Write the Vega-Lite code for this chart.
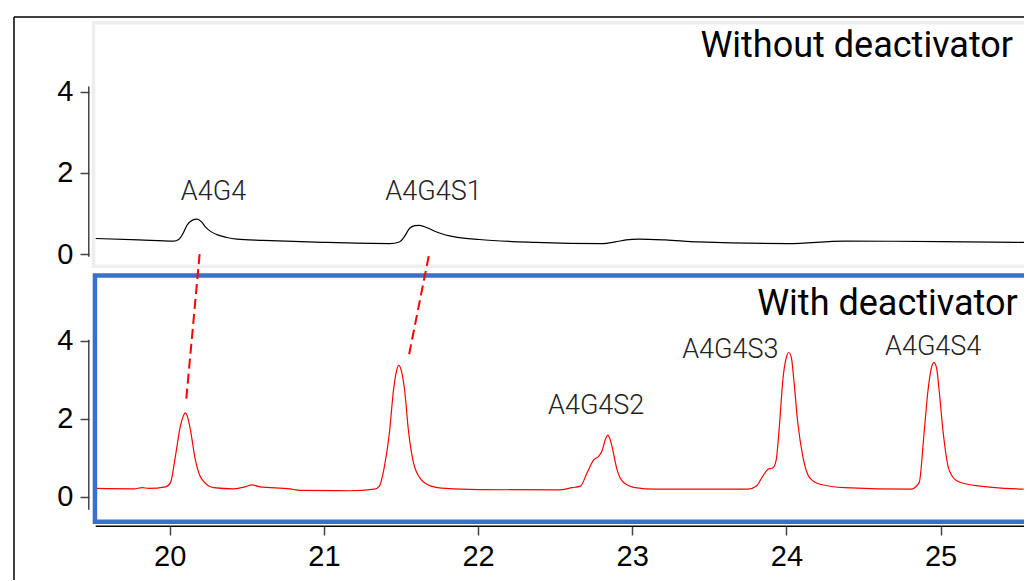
{
  "$schema": "https://vega.github.io/schema/vega-lite/v6.json",
  "width": 1027,
  "height": 581,
  "autosize": {"type": "fit", "contains": "padding"},
  "padding": {"left": 13, "top": 16, "right": 0, "bottom": 0},
  "background": "white",
  "config": {
    "view": {"stroke": null},
    "axis": {
      "labelFont": "Liberation Sans",
      "labelFontSize": 28,
      "labelColor": "#000000",
      "tickColor": "#444444",
      "tickWidth": 1.5,
      "tickSize": 9,
      "grid": false,
      "domain": false,
      "title": null
    }
  },
  "datasets": {
    "one": [{}],
    "without": [
      {"rt": 19.52, "signal": 0.385},
      {"rt": 19.8, "signal": 0.35},
      {"rt": 20.026, "signal": 0.32},
      {"rt": 20.058, "signal": 0.36},
      {"rt": 20.085, "signal": 0.5},
      {"rt": 20.112, "signal": 0.71},
      {"rt": 20.145, "signal": 0.83},
      {"rt": 20.177, "signal": 0.86},
      {"rt": 20.205, "signal": 0.8},
      {"rt": 20.231, "signal": 0.67},
      {"rt": 20.265, "signal": 0.56},
      {"rt": 20.306, "signal": 0.48},
      {"rt": 20.37, "signal": 0.41},
      {"rt": 20.435, "signal": 0.37},
      {"rt": 20.607, "signal": 0.34},
      {"rt": 20.995, "signal": 0.29},
      {"rt": 21.426, "signal": 0.26},
      {"rt": 21.49, "signal": 0.3},
      {"rt": 21.52, "signal": 0.42},
      {"rt": 21.555, "signal": 0.63},
      {"rt": 21.59, "signal": 0.7},
      {"rt": 21.62, "signal": 0.71},
      {"rt": 21.67, "signal": 0.65},
      {"rt": 21.727, "signal": 0.55},
      {"rt": 21.79, "signal": 0.47},
      {"rt": 21.857, "signal": 0.42},
      {"rt": 22.007, "signal": 0.36},
      {"rt": 22.373, "signal": 0.29},
      {"rt": 22.804, "signal": 0.26},
      {"rt": 22.89, "signal": 0.3},
      {"rt": 22.96, "signal": 0.35},
      {"rt": 23.041, "signal": 0.37},
      {"rt": 23.213, "signal": 0.35},
      {"rt": 23.428, "signal": 0.3},
      {"rt": 24.01, "signal": 0.26},
      {"rt": 24.376, "signal": 0.32},
      {"rt": 25.0, "signal": 0.31},
      {"rt": 25.541, "signal": 0.29}
    ],
    "with": [
      {"rt": 19.52, "signal": 0.21},
      {"rt": 19.767, "signal": 0.2},
      {"rt": 19.822, "signal": 0.23},
      {"rt": 19.864, "signal": 0.21},
      {"rt": 19.972, "signal": 0.25},
      {"rt": 20.005, "signal": 0.36},
      {"rt": 20.037, "signal": 1.04},
      {"rt": 20.069, "signal": 1.81},
      {"rt": 20.087, "signal": 2.06},
      {"rt": 20.101, "signal": 2.15},
      {"rt": 20.116, "signal": 2.04},
      {"rt": 20.134, "signal": 1.72},
      {"rt": 20.166, "signal": 0.95},
      {"rt": 20.209, "signal": 0.44},
      {"rt": 20.284, "signal": 0.23},
      {"rt": 20.413, "signal": 0.2},
      {"rt": 20.489, "signal": 0.25},
      {"rt": 20.532, "signal": 0.3},
      {"rt": 20.586, "signal": 0.25},
      {"rt": 20.78, "signal": 0.2},
      {"rt": 20.844, "signal": 0.16},
      {"rt": 21.167, "signal": 0.15},
      {"rt": 21.328, "signal": 0.19},
      {"rt": 21.36, "signal": 0.27},
      {"rt": 21.393, "signal": 0.78},
      {"rt": 21.425, "signal": 1.64},
      {"rt": 21.452, "signal": 2.75},
      {"rt": 21.471, "signal": 3.22},
      {"rt": 21.486, "signal": 3.37},
      {"rt": 21.503, "signal": 3.22},
      {"rt": 21.523, "signal": 2.75},
      {"rt": 21.55, "signal": 1.64},
      {"rt": 21.581, "signal": 0.87},
      {"rt": 21.63, "signal": 0.44},
      {"rt": 21.695, "signal": 0.27},
      {"rt": 21.792, "signal": 0.21},
      {"rt": 22.007, "signal": 0.18},
      {"rt": 22.524, "signal": 0.17},
      {"rt": 22.61, "signal": 0.23},
      {"rt": 22.664, "signal": 0.27},
      {"rt": 22.707, "signal": 0.61},
      {"rt": 22.75, "signal": 0.94},
      {"rt": 22.783, "signal": 1.04},
      {"rt": 22.804, "signal": 1.17},
      {"rt": 22.826, "signal": 1.47},
      {"rt": 22.842, "signal": 1.58},
      {"rt": 22.858, "signal": 1.45},
      {"rt": 22.873, "signal": 1.21},
      {"rt": 22.901, "signal": 0.7},
      {"rt": 22.944, "signal": 0.36},
      {"rt": 23.019, "signal": 0.23},
      {"rt": 23.149, "signal": 0.19},
      {"rt": 23.428, "signal": 0.19},
      {"rt": 23.751, "signal": 0.19},
      {"rt": 23.805, "signal": 0.27},
      {"rt": 23.848, "signal": 0.53},
      {"rt": 23.88, "signal": 0.7},
      {"rt": 23.913, "signal": 0.74},
      {"rt": 23.934, "signal": 0.95},
      {"rt": 23.956, "signal": 1.89},
      {"rt": 23.977, "signal": 3.0},
      {"rt": 23.998, "signal": 3.55},
      {"rt": 24.016, "signal": 3.7},
      {"rt": 24.033, "signal": 3.55},
      {"rt": 24.048, "signal": 3.0},
      {"rt": 24.074, "signal": 1.89},
      {"rt": 24.106, "signal": 1.04},
      {"rt": 24.15, "signal": 0.49},
      {"rt": 24.225, "signal": 0.31},
      {"rt": 24.376, "signal": 0.23},
      {"rt": 24.806, "signal": 0.19},
      {"rt": 24.861, "signal": 0.36},
      {"rt": 24.893, "signal": 1.64},
      {"rt": 24.919, "signal": 2.75},
      {"rt": 24.94, "signal": 3.3},
      {"rt": 24.957, "signal": 3.44},
      {"rt": 24.974, "signal": 3.3},
      {"rt": 24.99, "signal": 2.75},
      {"rt": 25.017, "signal": 1.64},
      {"rt": 25.054, "signal": 0.7},
      {"rt": 25.108, "signal": 0.4},
      {"rt": 25.216, "signal": 0.29},
      {"rt": 25.539, "signal": 0.19}
    ],
    "labelsTop": [
      {"label": "A4G4", "rt": 20.284, "signal": 1.52},
      {"label": "A4G4S1", "rt": 21.711, "signal": 1.52}
    ],
    "labelsBottom": [
      {"label": "A4G4S2", "rt": 22.766, "signal": 2.32},
      {"label": "A4G4S3", "rt": 23.636, "signal": 3.77},
      {"label": "A4G4S4", "rt": 24.952, "signal": 3.84}
    ],
    "links": [
      {"rt_top": 20.194, "rt_bottom": 20.106, "y_top": 6.226, "y_bottom": 2.446},
      {"rt_top": 21.68, "rt_bottom": 21.547, "y_top": 6.175, "y_bottom": 3.539}
    ]
  },
  "layer": [
    {
      "data": {"name": "one"},
      "mark": {"type": "rect", "fill": "white", "stroke": "#eeeeee", "strokeWidth": 3.5, "clip": true},
      "encoding": {
        "x": {"datum": 19.506, "type": "quantitative", "scale": {"domain": [18.99, 25.541], "nice": false, "zero": false}, "axis": null},
        "x2": {"datum": 26.2},
        "y": {"datum": 5.691, "type": "quantitative", "scale": {"domain": [-8.015, 5.833], "nice": false, "zero": false}, "axis": null},
        "y2": {"datum": -0.3}
      }
    },
    {
      "data": {"name": "one"},
      "mark": {"type": "rule", "stroke": "#000000", "strokeWidth": 1.5},
      "encoding": {
        "x": {"datum": 18.99, "type": "quantitative", "scale": {"domain": [18.99, 25.541], "nice": false, "zero": false}, "axis": null},
        "y": {"datum": 5.833, "type": "quantitative", "scale": {"domain": [-8.015, 5.833], "nice": false, "zero": false}, "axis": null},
        "y2": {"datum": -8.015}
      }
    },
    {
      "data": {"name": "one"},
      "mark": {"type": "rule", "stroke": "#000000", "strokeWidth": 1.5},
      "encoding": {
        "x": {"datum": 18.99, "type": "quantitative", "scale": {"domain": [18.99, 25.541], "nice": false, "zero": false}, "axis": null},
        "x2": {"datum": 25.541},
        "y": {"datum": 5.833, "type": "quantitative", "scale": {"domain": [-8.015, 5.833], "nice": false, "zero": false}, "axis": null}
      }
    },
    {
      "data": {"name": "one"},
      "mark": {"type": "rule", "stroke": "#444444", "strokeWidth": 1.5},
      "encoding": {
        "x": {"datum": 19.475, "type": "quantitative", "scale": {"domain": [18.99, 25.541], "nice": false, "zero": false}, "axis": null},
        "y": {"datum": 4.125, "type": "quantitative", "scale": {"domain": [-8.015, 5.833], "nice": false, "zero": false}, "axis": null},
        "y2": {"datum": -0.066}
      }
    },
    {
      "data": {"name": "without"},
      "mark": {"type": "line", "color": "#000000", "strokeWidth": 1.2, "interpolate": "monotone"},
      "encoding": {
        "x": {"field": "rt", "type": "quantitative", "scale": {"domain": [18.99, 25.541], "nice": false, "zero": false}, "axis": null},
        "y": {"field": "signal", "type": "quantitative", "scale": {"domain": [-8.015, 5.833], "nice": false, "zero": false},
              "axis": {"orient": "left", "values": [0, 2, 4], "offset": -75, "labelPadding": 7, "labelFont": "Liberation Sans", "labelFontSize": 29, "labelColor": "#000000"}}
      }
    },
    {
      "data": {"name": "labelsTop"},
      "mark": {"type": "text", "font": "Roboto", "fontWeight": 300, "fontSize": 27, "color": "#222222", "baseline": "middle", "align": "center"},
      "encoding": {
        "x": {"field": "rt", "type": "quantitative", "scale": {"domain": [18.99, 25.541], "nice": false, "zero": false}, "axis": null},
        "y": {"field": "signal", "type": "quantitative", "scale": {"domain": [-8.015, 5.833], "nice": false, "zero": false}, "axis": null},
        "text": {"field": "label"}
      }
    },
    {
      "data": {"name": "one"},
      "mark": {"type": "text", "text": "Without deactivator", "font": "Roboto", "fontSize": 36, "color": "#000000", "baseline": "alphabetic", "align": "right"},
      "encoding": {
        "x": {"datum": 25.47, "type": "quantitative", "scale": {"domain": [18.99, 25.541], "nice": false, "zero": false}, "axis": null},
        "y": {"datum": 4.85, "type": "quantitative", "scale": {"domain": [-8.015, 5.833], "nice": false, "zero": false}, "axis": null}
      }
    },
    {
      "data": {"name": "one"},
      "mark": {"type": "rule", "stroke": "#444444", "strokeWidth": 1.5},
      "encoding": {
        "x": {"datum": 19.475, "type": "quantitative", "scale": {"domain": [18.99, 25.541], "nice": false, "zero": false}, "axis": null},
        "y": {"datum": 4.025, "type": "quantitative", "scale": {"domain": [-2.142, 12.316], "nice": false, "zero": false}, "axis": null},
        "y2": {"datum": -0.34}
      }
    },
    {
      "data": {"name": "one"},
      "mark": {"type": "rule", "stroke": "#000000", "strokeWidth": 1.5},
      "encoding": {
        "x": {"datum": 19.52, "type": "quantitative", "scale": {"domain": [18.99, 25.541], "nice": false, "zero": false}, "axis": null},
        "x2": {"datum": 25.541},
        "y": {"datum": -0.76, "type": "quantitative", "scale": {"domain": [-2.142, 12.316], "nice": false, "zero": false}, "axis": null}
      }
    },
    {
      "data": {"name": "with"},
      "mark": {"type": "line", "color": "#ff0000", "strokeWidth": 1.2, "interpolate": "monotone"},
      "encoding": {
        "x": {"field": "rt", "type": "quantitative", "scale": {"domain": [18.99, 25.541], "nice": false, "zero": false},
              "axis": {"orient": "bottom", "values": [20, 21, 22, 23, 24, 25], "offset": -54, "labelPadding": 7, "labelFont": "Liberation Sans", "labelFontSize": 29, "labelColor": "#000000"}},
        "y": {"field": "signal", "type": "quantitative", "scale": {"domain": [-2.142, 12.316], "nice": false, "zero": false},
              "axis": {"orient": "left", "values": [0, 2, 4], "offset": -75, "labelPadding": 7, "labelFont": "Liberation Sans", "labelFontSize": 29, "labelColor": "#000000"}}
      }
    },
    {
      "data": {"name": "one"},
      "mark": {"type": "rect", "filled": false, "stroke": "#3b6fc8", "strokeWidth": 4.5, "clip": true},
      "encoding": {
        "x": {"datum": 19.515, "type": "quantitative", "scale": {"domain": [18.99, 25.541], "nice": false, "zero": false}, "axis": null},
        "x2": {"datum": 26.2},
        "y": {"datum": 5.68, "type": "quantitative", "scale": {"domain": [-2.142, 12.316], "nice": false, "zero": false}, "axis": null},
        "y2": {"datum": -0.645}
      }
    },
    {
      "data": {"name": "links"},
      "mark": {"type": "rule", "stroke": "#ff0000", "strokeWidth": 2, "strokeDash": [10, 5]},
      "encoding": {
        "x": {"field": "rt_top", "type": "quantitative", "scale": {"domain": [18.99, 25.541], "nice": false, "zero": false}, "axis": null},
        "x2": {"field": "rt_bottom"},
        "y": {"field": "y_top", "type": "quantitative", "scale": {"domain": [-2.142, 12.316], "nice": false, "zero": false}, "axis": null},
        "y2": {"field": "y_bottom"}
      }
    },
    {
      "data": {"name": "labelsBottom"},
      "mark": {"type": "text", "font": "Roboto", "fontWeight": 300, "fontSize": 27, "color": "#222222", "baseline": "middle", "align": "center"},
      "encoding": {
        "x": {"field": "rt", "type": "quantitative", "scale": {"domain": [18.99, 25.541], "nice": false, "zero": false}, "axis": null},
        "y": {"field": "signal", "type": "quantitative", "scale": {"domain": [-2.142, 12.316], "nice": false, "zero": false}, "axis": null},
        "text": {"field": "label"}
      }
    },
    {
      "data": {"name": "one"},
      "mark": {"type": "text", "text": "With deactivator", "font": "Roboto", "fontSize": 36, "color": "#000000", "baseline": "alphabetic", "align": "right"},
      "encoding": {
        "x": {"datum": 25.5, "type": "quantitative", "scale": {"domain": [18.99, 25.541], "nice": false, "zero": false}, "axis": null},
        "y": {"datum": 4.66, "type": "quantitative", "scale": {"domain": [-2.142, 12.316], "nice": false, "zero": false}, "axis": null}
      }
    }
  ],
  "resolve": {"scale": {"y": "independent"}, "axis": {"x": "independent", "y": "independent"}}
}
